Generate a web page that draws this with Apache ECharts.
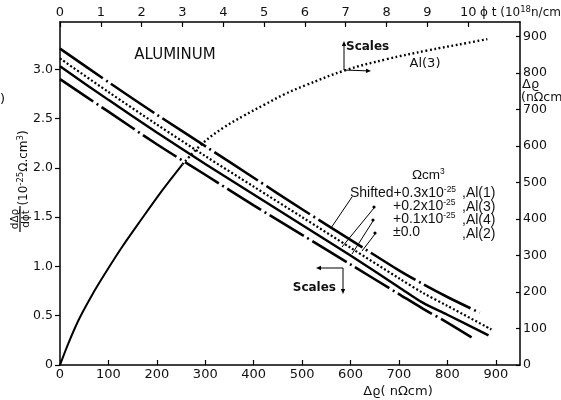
<!DOCTYPE html>
<html>
<head>
<meta charset="utf-8">
<script src="https://cdn.jsdelivr.net/npm/echarts@6/dist/echarts.min.js"></script>
<style>
html, body { margin: 0; padding: 0; background: #fff; }
#chart { width: 561px; height: 400px; }
</style>
</head>
<body>
<div id="chart"></div>
<script>
// Bottom axis: Δρ (nΩcm); left axis: dΔρ/dφt (10^-25 Ω.cm^3), shifted per legend
const al1Rho   = [0, 100, 200, 300, 400, 500, 600, 700, 750, 800, 867];
const al1Slope = [3.21, 2.87, 2.54, 2.22, 1.90, 1.58, 1.27, 0.96, 0.82, 0.69, 0.53];

const al3Rho   = [0, 100, 200, 300, 400, 500, 600, 700, 750, 800, 891];
const al3Slope = [3.11, 2.77, 2.44, 2.12, 1.81, 1.50, 1.19, 0.88, 0.73, 0.60, 0.36];

const al4Rho   = [0, 100, 200, 300, 400, 500, 600, 700, 750, 800, 885];
const al4Slope = [3.03, 2.69, 2.36, 2.04, 1.73, 1.42, 1.11, 0.79, 0.63, 0.51, 0.30];

const al2Rho   = [0, 100, 200, 300, 400, 500, 600, 700, 750, 800, 850];
const al2Slope = [2.90, 2.57, 2.24, 1.93, 1.62, 1.32, 1.02, 0.72, 0.57, 0.43, 0.28];

// Top axis: φt (10^18 n/cm^2); right axis: Δρ (nΩcm) for Al(3)
const riseFluence = [0, 0.2, 0.45, 0.7, 1.0, 1.5, 2.0, 2.5, 3.0];
const riseRho     = [0, 58, 122, 175, 232, 320, 400, 478, 550];
const tailFluence = [3.0, 3.5, 4.0, 4.5, 5.0, 5.5, 6.0, 7.0, 8.0, 9.0, 10.0, 10.47];
const tailRho     = [550, 608, 650, 683, 713, 742, 766, 808, 838, 862, 883, 893];

// Tick labels on the four axes
const rhoTicks     = [0, 100, 200, 300, 400, 500, 600, 700, 800, 900];
const fluenceTicks = [0, 1, 2, 3, 4, 5, 6, 7, 8, 9, 10];
const slopeTicks   = [0, 0.5, 1.0, 1.5, 2.0, 2.5, 3.0];

const pairs = (xs, ys) => xs.map((x, i) => [x, ys[i]]);

const FONT = 'DejaVu Sans';
const NARROW = 'Liberation Sans';
const INK = '#000';
const TXT = '#111';

const axisLine = { show: true, onZero: false, lineStyle: { color: INK, width: 1.5 } };

const chart = echarts.init(document.getElementById('chart'), null, { renderer: 'canvas' });

function arrow(x1, y1, x2, y2) {
  const ang = Math.atan2(y2 - y1, x2 - x1);
  const L = 5, W = 2.2;
  const bx = x2 - L * Math.cos(ang), by = y2 - L * Math.sin(ang);
  const px = -Math.sin(ang) * W, py = Math.cos(ang) * W;
  return [
    { type: 'line', shape: { x1: x1, y1: y1, x2: bx, y2: by }, style: { stroke: INK, lineWidth: 1 } },
    { type: 'polygon', shape: { points: [[x2, y2], [bx + px, by + py], [bx - px, by - py]] }, style: { fill: INK } }
  ];
}

function txt(x, y, text, size, align, family, weight) {
  return {
    type: 'text', x: x, y: y,
    style: {
      text: text, fill: TXT, align: align || 'left', verticalAlign: 'middle',
      fontFamily: family || FONT, fontSize: size || 13, fontWeight: weight || 'normal'
    }
  };
}

function richTxt(x, y, text, size, align, family) {
  const fam = family || FONT;
  return {
    type: 'text', x: x, y: y,
    style: {
      text: text, fill: TXT, align: align || 'left', verticalAlign: 'middle',
      fontFamily: fam, fontSize: size || 13, lineHeight: 15,
      rich: {
        s: { fontFamily: fam, fontSize: 8.5, verticalAlign: 'top', lineHeight: 15, fill: TXT }
      }
    }
  };
}

function leader(x1, y1, x2, y2) {
  return { type: 'line', shape: { x1: x1, y1: y1, x2: x2, y2: y2 }, style: { stroke: INK, lineWidth: 1 } };
}

const graphics = [
  txt(175, 55, 'ALUMINUM', 15, 'center'),
  txt(425, 64, 'Al(3)', 13, 'center'),
  txt(346, 47, 'Scales', 12, 'left', FONT, 'bold'),
  ...arrow(344, 70, 344, 41),
  ...arrow(344, 70, 371, 71),
  txt(336, 288, 'Scales', 12, 'right', FONT, 'bold'),
  ...arrow(343, 268, 343, 294),
  ...arrow(343, 268, 316, 268),

  // shift legend
  richTxt(412, 175, 'Ωcm{s|3}', 13.5, 'left', NARROW),
  richTxt(350, 193, 'Shifted+0.3x10{s|-25}', 14, 'left', NARROW),
  richTxt(393, 206, '+0.2x10{s|-25}', 14, 'left', NARROW),
  richTxt(393, 219, '+0.1x10{s|-25}', 14, 'left', NARROW),
  richTxt(393, 232, '±0.0', 14, 'left', NARROW),
  txt(462, 193, ',Al(1)', 14, 'left', NARROW),
  txt(462, 207, ',Al(3)', 14, 'left', NARROW),
  txt(462, 220, ',Al(4)', 14, 'left', NARROW),
  txt(462, 234, ',Al(2)', 14, 'left', NARROW),
  leader(352, 197, 331, 228),
  leader(374, 208, 342, 247),
  leader(373, 221, 352, 254),
  leader(375, 234, 362, 251),
  { type: 'circle', shape: { cx: 374, cy: 207, r: 1.6 }, style: { fill: INK } },
  { type: 'circle', shape: { cx: 373, cy: 220, r: 1.6 }, style: { fill: INK } },
  { type: 'circle', shape: { cx: 375, cy: 233, r: 1.6 }, style: { fill: INK } },

  // axis titles
  txt(398, 392, 'Δϱ( nΩcm)', 13, 'center'),
  richTxt(480, 13, 'ϕ t (10{s|18}n/cm{s|2})', 12, 'left'),
  txt(522, 85, 'Δϱ', 13),
  txt(521, 98, '(nΩcm)', 12.5),
  txt(0, 100, ')', 13),
  {
    type: 'group', x: 22, y: 182, rotation: Math.PI / 2,
    children: [
      richTxt(14, 2, '(10{s|-25}Ω.cm{s|3})', 12, 'center'),
      txt(-37, -7, 'dΔϱ', 10.5, 'center'),
      { type: 'line', shape: { x1: -50, y1: -2, x2: -24, y2: -2 }, style: { stroke: INK, lineWidth: 1.2 } },
      txt(-37, 4, 'dϕt', 10.5, 'center')
    ]
  }
];

const tickStyle = { color: INK, width: 1.2 };
const labelBase = { color: TXT, fontFamily: FONT, fontSize: 13 };

const option = {
  animation: false,
  backgroundColor: '#fff',
  grid: { left: 60, right: 41, top: 22, bottom: 35 },
  xAxis: [
    {
      type: 'value', position: 'bottom', min: 0, max: 950, interval: 100,
      axisLine: axisLine,
      axisTick: { show: true, inside: true, length: 5, lineStyle: tickStyle, customValues: rhoTicks },
      axisLabel: Object.assign({}, labelBase, { margin: 3, customValues: rhoTicks, formatter: v => String(v) }),
      splitLine: { show: false }
    },
    {
      type: 'value', position: 'top', min: 0, max: 11.27, interval: 1,
      axisLine: axisLine,
      axisTick: { show: true, inside: true, length: 5, lineStyle: tickStyle, customValues: fluenceTicks },
      axisLabel: Object.assign({}, labelBase, { margin: 3, customValues: fluenceTicks, formatter: v => String(v) }),
      splitLine: { show: false }
    }
  ],
  yAxis: [
    {
      type: 'value', position: 'left', min: 0, max: 3.48, interval: 0.5,
      axisLine: axisLine,
      axisTick: { show: true, inside: false, length: 5, lineStyle: tickStyle, customValues: slopeTicks },
      axisLabel: Object.assign({}, labelBase, { fontSize: 12.5, margin: 7, customValues: slopeTicks,
        formatter: v => v === 0 ? '0' : v.toFixed(1) }),
      splitLine: { show: false }
    },
    {
      type: 'value', position: 'right', min: 0, max: 940, interval: 100,
      axisLine: axisLine,
      axisTick: { show: true, inside: true, length: 4, lineStyle: tickStyle, customValues: rhoTicks },
      axisLabel: Object.assign({}, labelBase, { fontSize: 12.5, margin: 3, customValues: rhoTicks, formatter: v => String(v) }),
      splitLine: { show: false }
    }
  ],
  series: [
    { name: 'Al(1)', type: 'line', xAxisIndex: 0, yAxisIndex: 0, data: pairs(al1Rho, al1Slope),
      showSymbol: false, smooth: 0.3, lineStyle: { color: INK, width: 2.6, type: [52, 4, 2, 4] } },
    { name: 'Al(3)', type: 'line', xAxisIndex: 0, yAxisIndex: 0, data: pairs(al3Rho, al3Slope),
      showSymbol: false, smooth: 0.3, lineStyle: { color: INK, width: 2.2, type: [2, 2.2] } },
    { name: 'Al(4)', type: 'line', xAxisIndex: 0, yAxisIndex: 0, data: pairs(al4Rho, al4Slope),
      showSymbol: false, smooth: 0.3, lineStyle: { color: INK, width: 2.4, type: 'solid' } },
    { name: 'Al(2)', type: 'line', xAxisIndex: 0, yAxisIndex: 0, data: pairs(al2Rho, al2Slope),
      showSymbol: false, smooth: 0.3, lineStyle: { color: INK, width: 2.6, type: [40, 4, 2, 4] } },
    { name: 'Al(3) Δρ', type: 'line', xAxisIndex: 1, yAxisIndex: 1, data: pairs(riseFluence, riseRho),
      showSymbol: false, smooth: 0.3, lineStyle: { color: INK, width: 2, type: 'solid' } },
    { name: 'Al(3) Δρ tail', type: 'line', xAxisIndex: 1, yAxisIndex: 1, data: pairs(tailFluence, tailRho),
      showSymbol: false, smooth: 0.4, lineStyle: { color: INK, width: 2.4, type: [1.8, 2.6] } }
  ],
  graphic: graphics
};

chart.setOption(option);
</script>
</body>
</html>
